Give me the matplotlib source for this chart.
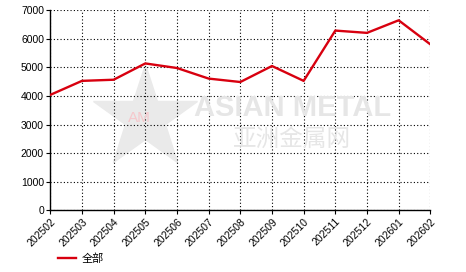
import matplotlib
matplotlib.use("Agg")
from matplotlib import pyplot as plt

months = ["202502", "202503", "202504", "202505", "202506", "202507", "202508",
          "202509", "202510", "202511", "202512", "202601", "202602"]
values = [4040, 4530, 4570, 5140, 4980, 4610, 4490, 5050, 4530, 6290, 6210, 6650, 5810]
yticks = [0, 1000, 2000, 3000, 4000, 5000, 6000, 7000]
series_name = "全部"

plt.rcParams["font.family"] = ["Liberation Sans", "DejaVu Sans"]

fig = plt.figure(figsize=(4.66, 2.72), dpi=100)
ax = fig.add_axes([50.3 / 466, 1 - 210.3 / 272, 380 / 466, 200 / 272])

# watermark
fig.text(0.627, 0.603, "ASIAN METAL", color="#e6e6e6", fontsize=21, fontweight="bold",
         ha="center", va="center", zorder=0)
fig.text(0.50, 0.489, "亚洲金属网", color="#e6e6e6", fontsize=17,
         family=["Noto Sans CJK SC", "DejaVu Sans"], ha="left", va="center", zorder=0)
ax.plot([0.311], [0.565], marker="*", markersize=78, color="#eaeaea",
        transform=fig.transFigure, zorder=0, clip_on=False)
fig.text(0.30, 0.565, "AM", color="#f6c8cc", fontsize=11, ha="center", va="center", zorder=0)

x = list(range(len(months)))
ax.plot(x, values, color="#d8000f", linewidth=1.7, label=series_name, zorder=3)

ax.set_xlim(0, len(months) - 1)
ax.set_ylim(0, 7000)
ax.set_xticks(x)
ax.set_xticklabels(months, rotation=45, ha="right", rotation_mode="anchor")
ax.set_yticks(yticks)
ax.tick_params(labelsize=7.5, length=3, width=0.8, colors="black", pad=1.5)
ax.grid(True, color="black", linestyle=(0, (1, 2)), linewidth=0.8)
ax.set_axisbelow(False)
for s in ["top", "right"]:
    ax.spines[s].set_visible(False)
for s in ["left", "bottom"]:
    ax.spines[s].set_linewidth(1.0)
ax.patch.set_alpha(0)

leg = fig.legend(loc="center left", bbox_to_anchor=(48 / 466, 1 - 259 / 272), frameon=False,
                 handlelength=1.6, handletextpad=0.5,
                 prop={"family": ["Noto Sans CJK SC", "DejaVu Sans"], "size": 8})

fig.savefig("out.png", dpi=100)
